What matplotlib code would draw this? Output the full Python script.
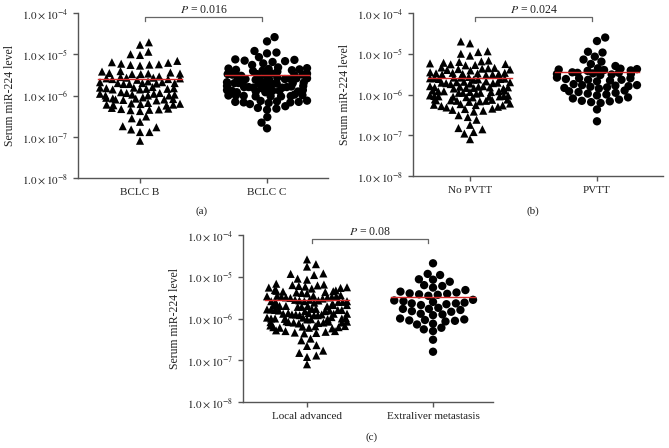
import numpy as np
import matplotlib
matplotlib.use("Agg")
import matplotlib.pyplot as plt

plt.rcParams['font.family'] = ['Liberation Serif', 'DejaVu Serif']
plt.rcParams['mathtext.fontset'] = 'stix'

# ---------------- data (values in units of 1e-6) ----------------
bclc_b = [19.5, 17.0, 11.5, 10.0, 9.6,
          6.9, 6.2, 5.9, 5.7, 5.6, 5.5, 5.3, 6.4,
          3.9, 3.8, 3.5, 3.4, 3.3, 3.3, 3.4, 3.6,
          2.9, 2.8, 2.7, 2.6, 2.6, 2.5, 2.5, 2.4, 2.7,
          2.2, 2.1, 2.0, 2.0, 1.95, 1.9, 2.1, 2.0, 1.9,
          1.6, 1.55, 1.5, 1.45, 1.45, 1.4, 1.5, 1.55, 1.4,
          1.2, 1.15, 1.1, 1.05, 1.0, 1.0, 1.1, 1.05, 1.0, 1.15,
          0.88, 0.85, 0.82, 0.8, 0.78, 0.76, 0.8, 0.84, 0.9,
          0.66, 0.64, 0.62, 0.6, 0.58, 0.6, 0.63, 0.57,
          0.5, 0.48, 0.46, 0.45, 0.44, 0.42, 0.47,
          0.31, 0.28, 0.23, 0.18, 0.17, 0.15, 0.13, 0.13, 0.08]
bclc_c = [26, 20.5, 12, 11, 10.5,
          8.5, 7.5, 7.0, 6.5, 6.8, 6.0, 5.5, 7.3,
          4.8, 4.5, 4.3, 4.1, 4.0, 3.9, 4.6, 4.2, 3.8, 4.4,
          3.4, 3.3, 3.2, 3.1, 3.0, 3.2, 3.3, 3.1, 3.0, 3.4,
          2.7, 2.6, 2.5, 2.5, 2.4, 2.6, 2.7, 2.4, 2.5, 2.6,
          2.1, 2.0, 2.0, 1.95, 1.9, 2.05, 2.1, 1.9, 2.0, 2.0,
          1.7, 1.65, 1.6, 1.55, 1.6, 1.5, 1.7, 1.6, 1.55, 1.65,
          1.35, 1.3, 1.25, 1.2, 1.3, 1.25, 1.2, 1.35, 1.3,
          1.05, 1.0, 0.98, 0.95, 0.95, 1.0, 1.02, 0.97, 0.96,
          0.75, 0.72, 0.7, 0.68, 0.66, 0.7, 0.74, 0.68,
          0.55, 0.5, 0.48, 0.45, 0.62, 0.3, 0.22, 0.16]
no_pvtt = [20, 18, 11.5, 11.0, 10.0, 9.0,
           6.8, 6.3, 6.0, 5.8, 5.6, 5.5, 5.3, 6.5, 5.2,
           4.6, 4.4, 4.2, 4.0, 3.9, 4.3, 4.5, 4.1,
           3.5, 3.4, 3.3, 3.2, 3.1, 3.0, 3.3, 3.2, 3.4, 3.1,
           2.7, 2.6, 2.5, 2.4, 2.4, 2.3, 2.5, 2.6, 2.35, 2.45,
           2.1, 2.0, 1.95, 1.9, 1.85, 2.0, 1.9, 2.05, 1.95, 1.8,
           1.6, 1.55, 1.5, 1.45, 1.5, 1.4, 1.6, 1.55, 1.45, 1.5, 1.4,
           1.25, 1.2, 1.15, 1.1, 1.1, 1.2, 1.05, 1.15, 1.25, 1.1, 1.2,
           0.95, 0.92, 0.9, 0.88, 0.86, 0.9, 0.94, 0.85, 0.88, 0.92,
           0.76, 0.74, 0.72, 0.7, 0.68, 0.7, 0.75, 0.66, 0.72,
           0.6, 0.58, 0.56, 0.54, 0.52, 0.55, 0.5, 0.48,
           0.45, 0.42, 0.4, 0.38, 0.44,
           0.31, 0.28, 0.24, 0.18, 0.15, 0.14, 0.12, 0.11, 0.08]
pvtt = [25, 20.5, 11.2, 10.7, 8.5, 7.2, 6.4, 5.6, 5.0,
        4.4, 4.2, 4.0, 3.9, 4.1, 4.3, 3.8,
        3.5, 3.4, 3.3, 3.2, 3.1, 3.0, 3.4, 3.2,
        2.6, 2.5, 2.4, 2.3, 2.2, 2.5, 2.3, 2.1,
        1.8, 1.7, 1.65, 1.6, 1.5, 1.45, 1.7, 1.55, 1.4,
        1.25, 1.2, 1.1, 1.05, 1.0, 0.95, 1.15,
        0.85, 0.8, 0.75, 0.7, 0.65, 0.62, 0.68,
        0.43, 0.22]
local_adv = [26, 20, 17.5, 12, 11.7, 11, 9.0, 8.5,
             6.8, 6.5, 6.2, 6.0, 5.8, 5.6, 5.4, 5.5, 6.3, 5.2,
             4.8, 4.6, 4.4, 4.3, 4.2, 4.5, 4.7, 4.1, 4.0,
             3.6, 3.5, 3.4, 3.3, 3.2, 3.1, 3.3, 3.4, 3.5, 3.2, 3.0,
             2.8, 2.7, 2.6, 2.5, 2.5, 2.6, 2.7, 2.4, 2.8, 2.6, 2.5,
             2.2, 2.1, 2.0, 2.0, 1.95, 1.9, 2.1, 2.05, 1.9, 2.0, 2.15,
             1.7, 1.65, 1.6, 1.55, 1.5, 1.6, 1.7, 1.55, 1.65, 1.5, 1.6,
             1.35, 1.3, 1.25, 1.2, 1.25, 1.3, 1.2, 1.35, 1.25, 1.3, 1.2,
             1.08, 1.05, 1.0, 0.98, 0.95, 1.0, 1.05, 0.97, 1.02, 0.96, 1.0,
             0.86, 0.84, 0.82, 0.8, 0.78, 0.8, 0.84, 0.76, 0.82, 0.8,
             0.68, 0.65, 0.62, 0.6, 0.58, 0.62, 0.66, 0.6, 0.64,
             0.52, 0.5, 0.48, 0.46, 0.44, 0.5, 0.45,
             0.33, 0.3, 0.23, 0.22, 0.17, 0.15, 0.13, 0.12, 0.08]
extraliver = [21, 11.7, 11, 8.7, 8.5, 7.6, 6.3, 6.0, 5.5,
              4.8, 4.4, 4.0, 3.9, 3.7, 3.5, 4.2, 3.8,
              2.8, 2.6, 2.4, 2.3, 2.2, 2.5, 2.7, 2.1, 2.3,
              1.8, 1.7, 1.6, 1.5, 1.45, 1.7, 1.3, 1.25, 1.2,
              1.0, 0.95, 0.9, 0.88, 0.85, 0.92, 0.75, 0.72,
              0.6, 0.55, 0.5, 0.31, 0.16]

cats_a = ["BCLC B", "BCLC C"]
cats_b = ["No PVTT", "PVTT"]
cats_c = ["Local advanced", "Extraliver metastasis"]
means_a = [2.5, 3.1]
means_b = [2.5, 3.6]
means_c = [2.7, 3.2]
pvals = ["0.016", "0.024", "0.08"]
panel_labels = ["(a)", "(b)", "(c)"]
yticks = [1e-8, 1e-7, 1e-6, 1e-5, 1e-4]
ytick_labels = [r"$1.0\times10^{-8}$", r"$1.0\times10^{-7}$", r"$1.0\times10^{-6}$",
                r"$1.0\times10^{-5}$", r"$1.0\times10^{-4}$"]

W, H = 669, 448
fig = plt.figure(figsize=(W / 100, H / 100), dpi=100)

panels = [
    dict(rect=(78, 328, 13, 178), xlim=(-0.488, 1.48), cats=cats_a,
         data=[bclc_b, bclc_c], means=means_a, p=pvals[0], lab=panel_labels[0], labxy=(202, 211)),
    dict(rect=(413, 663, 13, 176), xlim=(-0.449, 1.52), cats=cats_b,
         data=[no_pvtt, pvtt], means=means_b, p=pvals[1], lab=panel_labels[1], labxy=(533, 211)),
    dict(rect=(243, 493, 235, 402), xlim=(-0.508, 1.476), cats=cats_c,
         data=[local_adv, extraliver], means=means_c, p=pvals[2], lab=panel_labels[2], labxy=(372, 437)),
]


def swarm(ypix, dx, dy, cap):
    """Beeswarm with elliptical exclusion, then dense rows squeezed to a max half-width."""
    ypix = np.asarray(ypix)
    ys = ypix * (dx / dy)
    d = dx
    order = np.argsort(ys)
    xs = np.zeros(len(ys))
    px, py = [], []
    for n, i in enumerate(order):
        y = ys[i]
        near = [(a, b) for a, b in zip(px, py) if abs(b - y) < d]
        cands = [0.0]
        for a, b in near:
            w = np.sqrt(d * d - (b - y) ** 2)
            cands += [a - w, a + w]
        sgn = 1 if n % 2 else -1
        cands.sort(key=lambda c: (round(abs(c), 6), sgn * c))
        for c in cands:
            if all((c - a) ** 2 + (y - b) ** 2 >= d * d - 1e-6 for a, b in near):
                xs[i] = c
                break
        px.append(xs[i])
        py.append(y)
    out = xs.copy()
    for i in range(len(xs)):
        nb = np.abs(ypix - ypix[i]) < 3.0
        wmax = np.abs(xs[nb]).max()
        if wmax > cap:
            out[i] = xs[i] * cap / wmax
    return out


spine_col = "#555555"
markers = ["^", "o"]
for P in panels:
    l, r, t, b = P["rect"]
    ax = fig.add_axes([l / W, 1 - b / H, (r - l) / W, (b - t) / H])
    ax.set_yscale("log")
    ax.set_ylim(1e-8, 1e-4)
    ax.set_xlim(*P["xlim"])
    for s in ["top", "right"]:
        ax.spines[s].set_visible(False)
    for s in ["left", "bottom"]:
        ax.spines[s].set_color(spine_col)
        ax.spines[s].set_linewidth(1.0)
    ax.set_yticks(yticks)
    ax.set_yticklabels(ytick_labels)
    ax.yaxis.set_minor_locator(matplotlib.ticker.NullLocator())
    ax.set_xticks([0, 1])
    ax.set_xticklabels(P["cats"])
    ax.tick_params(axis="both", colors=spine_col, labelcolor="#222222", length=3.5, width=1.0, labelsize=8)
    ax.set_ylabel("Serum miR-224 level", fontsize=8.5, color="#222222", labelpad=4)

    for k, vals in enumerate(P["data"]):
        v = np.asarray(vals) * 1e-6
        pts = ax.transData.transform(np.column_stack([np.full(len(v), float(k)), v]))
        off = swarm(pts[:, 1], 9.5, 7.0, 40.0)
        pts[:, 0] += off
        xy = ax.transData.inverted().transform(pts)
        ax.scatter(xy[:, 0], xy[:, 1], marker=markers[k], s=34 if k == 0 else 36,
                   color="black", edgecolors="none", zorder=3, clip_on=False)
        m = P["means"][k] * 1e-6
        ax.plot([k - 0.33, k + 0.33], [m, m], color="#d42a2a", lw=1.0, zorder=4)

    yb, ye = 10 ** -4.10, 10 ** -4.19
    ax.plot([0.04, 0.04, 0.96, 0.96], [ye, yb, yb, ye], color="#666666", lw=0.9, clip_on=False)
    ax.text(0.5, 10 ** -4.07, r"$P$ = " + P["p"], ha="center", va="bottom", fontsize=8.5, color="#222222")

    fig.text(P["labxy"][0] / W, 1 - P["labxy"][1] / H, P["lab"], ha="center", va="center",
             fontsize=8, color="#222222")

fig.savefig("out.png", dpi=100)
